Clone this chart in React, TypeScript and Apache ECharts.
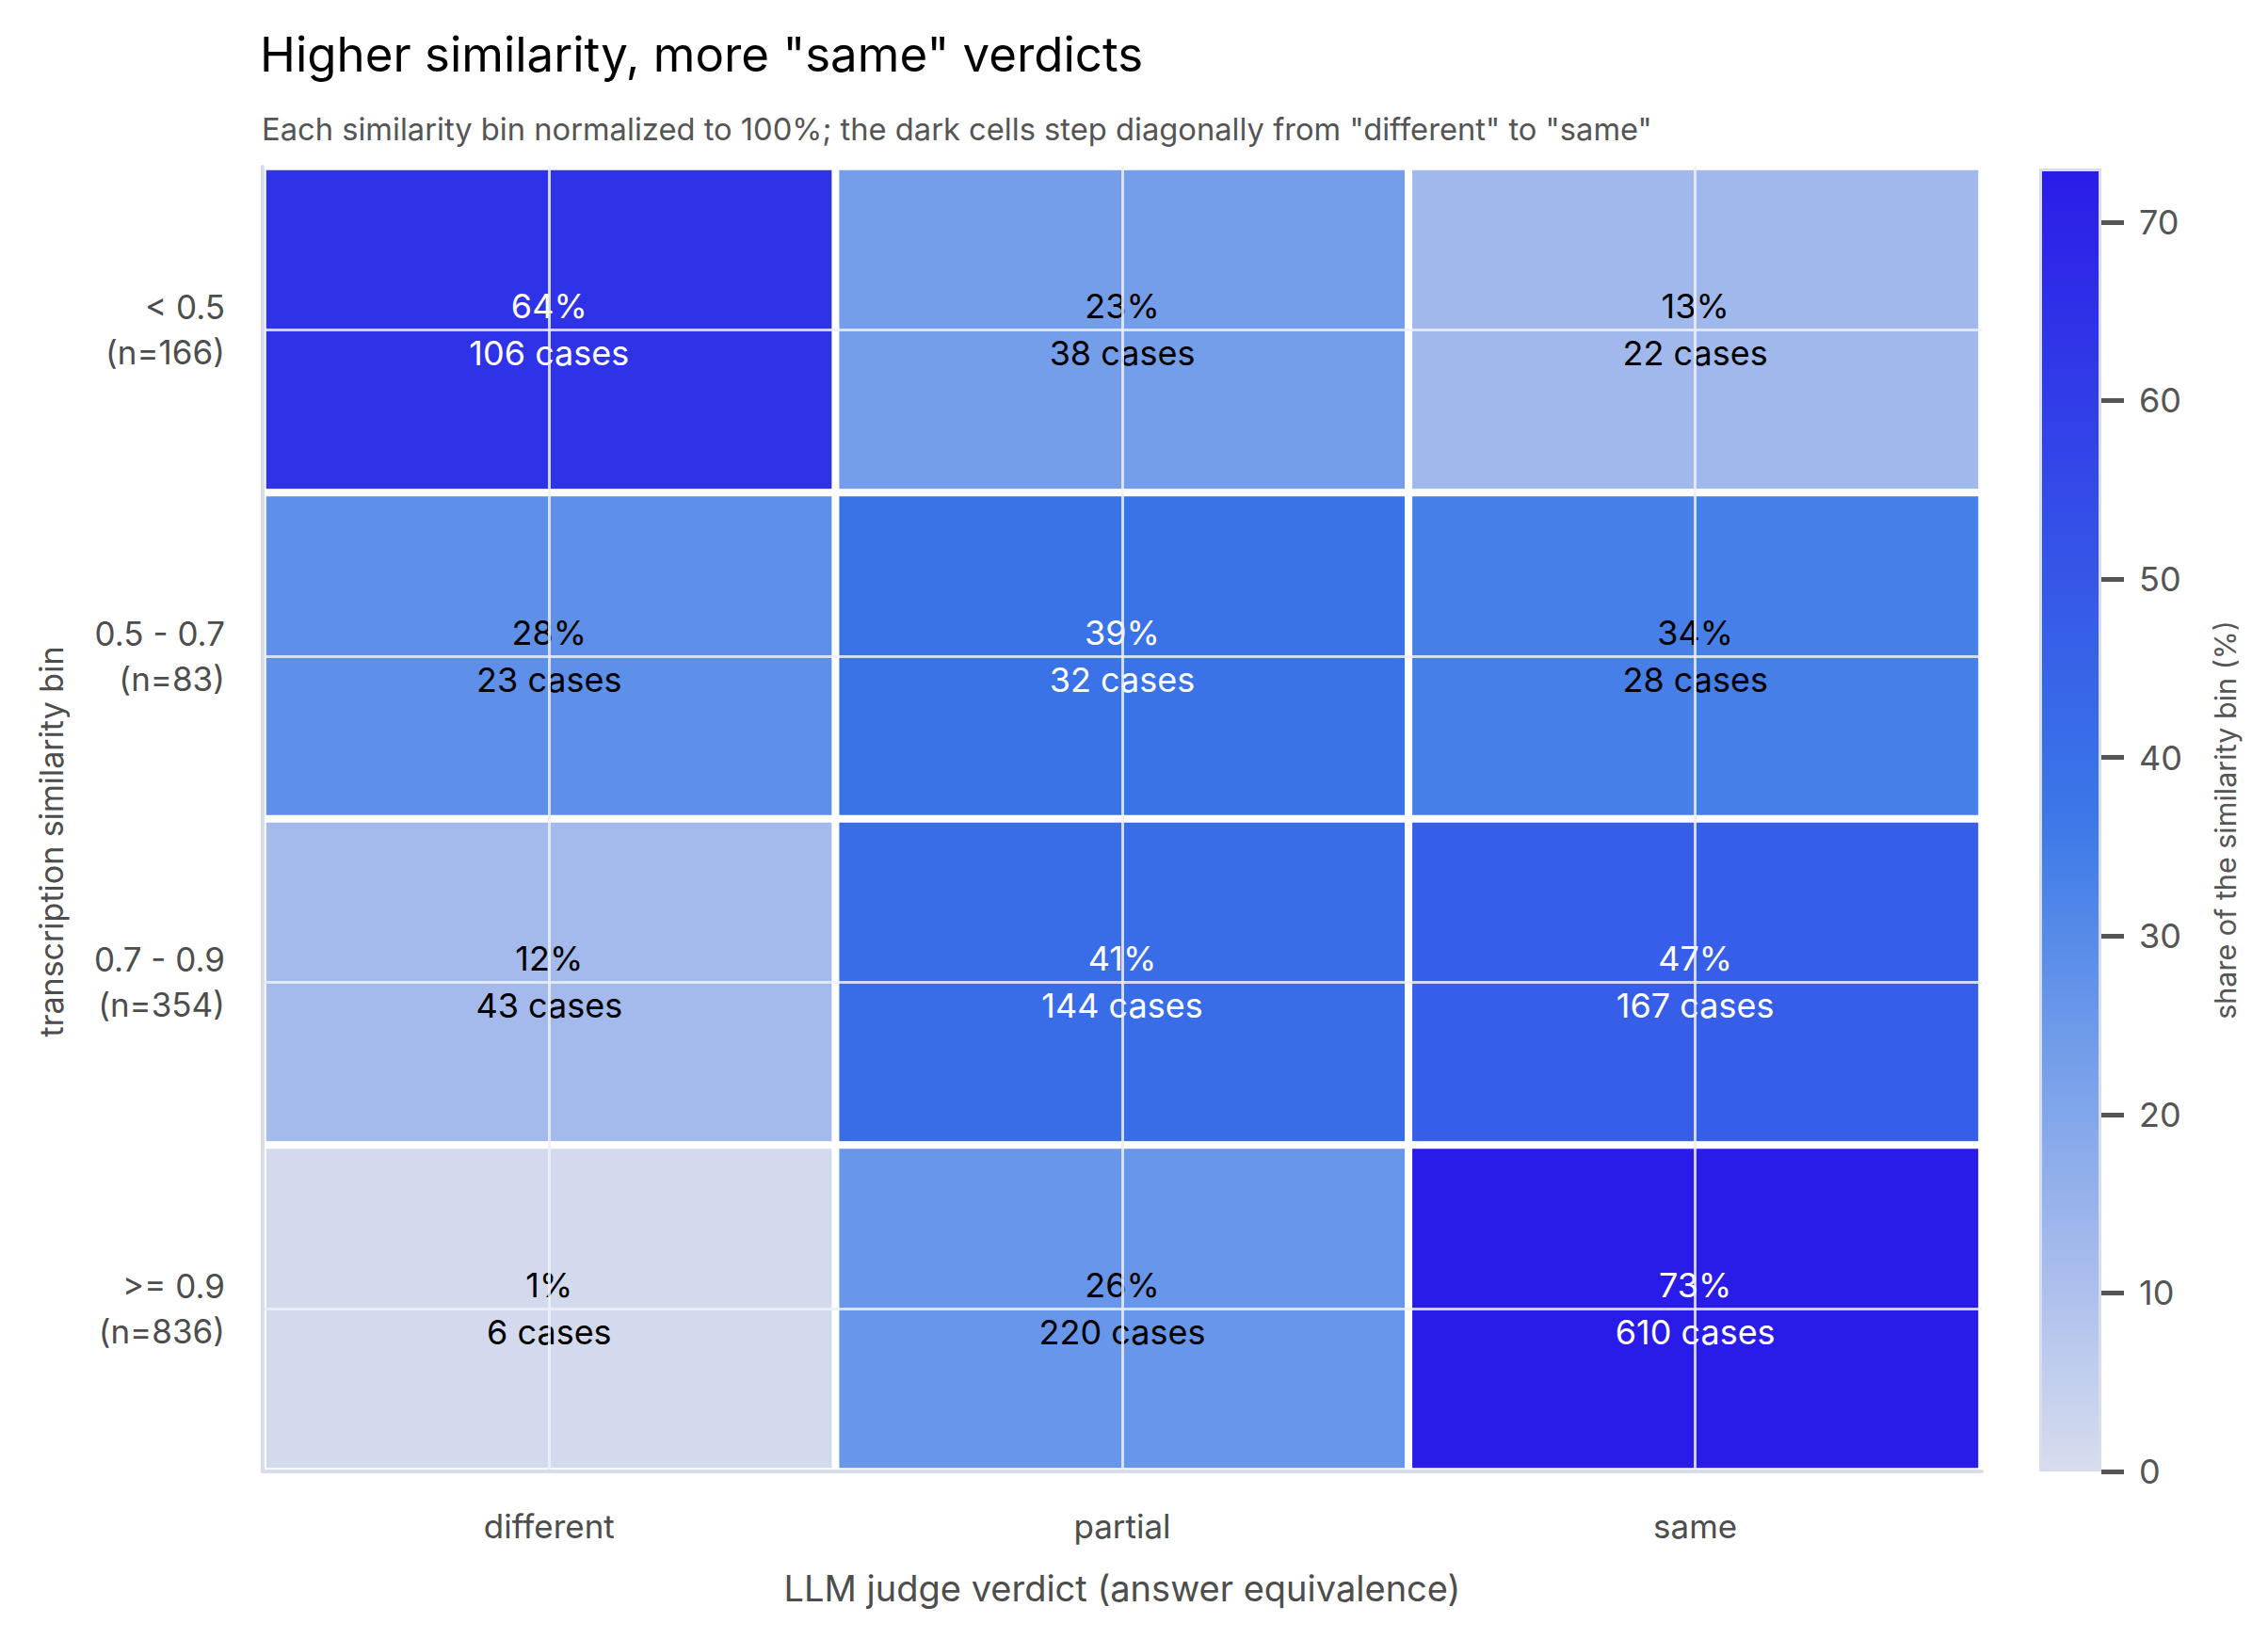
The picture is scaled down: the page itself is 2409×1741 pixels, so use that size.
import React, { useEffect, useRef } from "react";
import * as echarts from "echarts";

const verdicts = ["different", "partial", "same"];
const bins = ["< 0.5", "0.5 - 0.7", "0.7 - 0.9", ">= 0.9"];
const binN = [166, 83, 354, 836];
const caseCounts = [
  [106, 38, 22],
  [23, 32, 28],
  [43, 144, 167],
  [6, 220, 610],
];
const sharePct = [
  [64, 23, 13],
  [28, 39, 34],
  [12, 41, 47],
  [1, 26, 73],
];
const colorbarTicks = [0, 10, 20, 30, 40, 50, 60, 70];
const scaleMax = 73;
const palette = ["#d8ddee", "#a4baec", "#6f9bea", "#3b78e8", "#365ae8", "#313be8", "#2a1ce8"];

const FONT = "Inter, 'Noto Sans', sans-serif";

export default function App() {
  const ref = useRef<HTMLDivElement>(null);
  useEffect(() => {
    if (!ref.current) return;
    const chart = echarts.init(ref.current, undefined, { renderer: "svg" });
    const data: any[] = [];
    bins.forEach((b, yi) => {
      verdicts.forEach((v, xi) => {
        const p = sharePct[yi][xi];
        data.push({
          value: [xi, yi, p],
          cases: caseCounts[yi][xi],
          label: { color: p > 36 ? "#ffffff" : "#000000" },
        });
      });
    });
    const stops = palette.map((c, i) => ({ offset: i / (palette.length - 1), color: c }));
    const option: any = {
      animation: false,
      backgroundColor: "#ffffff",
      textStyle: { fontFamily: FONT },
      title: [
        {
          text: 'Higher similarity, more "same" verdicts',
          left: 271,
          top: 27,
          textStyle: { fontFamily: FONT, fontSize: 51, fontWeight: "normal", color: "#000000" },
        },
        {
          text: 'Each similarity bin normalized to 100%; the dark cells step diagonally from "different" to "same"',
          left: 273,
          top: 115,
          textStyle: { fontFamily: FONT, fontSize: 32.7, fontWeight: "normal", color: "#555555" },
        },
      ],
      graphic: [
        {
          type: "text",
          x: 54,
          y: 894,
          rotation: Math.PI / 2,
          style: {
            text: "transcription similarity bin",
            fontSize: 34,
            fontFamily: FONT,
            fill: "#4d4d4d",
            align: "center",
            verticalAlign: "middle",
          },
        },
      ],
      grid: [
        { left: 279, top: 177, width: 1826, height: 1386 },
        { left: 2166, top: 179, width: 66, height: 1384 },
      ],
      xAxis: [
        {
          type: "category",
          data: verdicts,
          gridIndex: 0,
          z: 5,
          axisLine: { show: true, lineStyle: { color: "#d8ddee", width: 4 } },
          axisTick: { show: false },
          splitLine: { show: false },
          axisLabel: { fontSize: 35, color: "#4d4d4d", margin: 40, fontFamily: FONT },
          name: "LLM judge verdict (answer equivalence)",
          nameLocation: "middle",
          nameGap: 105,
          nameTextStyle: { fontSize: 38, color: "#4d4d4d", fontFamily: FONT },
        },
        {
          type: "category",
          data: ["bar"],
          gridIndex: 1,
          show: false,
        },
      ],
      yAxis: [
        {
          type: "category",
          data: bins,
          inverse: true,
          gridIndex: 0,
          z: 5,
          axisLine: { show: true, lineStyle: { color: "#d8ddee", width: 4 } },
          axisTick: { show: false },
          splitLine: { show: false },
          axisLabel: {
            fontSize: 35,
            lineHeight: 48,
            color: "#4d4d4d",
            margin: 40,
            align: "right",
            fontFamily: FONT,
            formatter: (val: string, idx: number) => `${val}\n(n=${binN[idx]})`,
          },
        },
        {
          type: "value",
          gridIndex: 1,
          position: "right",
          min: 0,
          max: scaleMax,
          interval: 10,
          axisLine: { show: false },
          axisTick: {
            show: true,
            length: 24,
            customValues: colorbarTicks,
            lineStyle: { color: "#555555", width: 5 },
          },
          splitLine: { show: false },
          axisLabel: {
            fontSize: 36,
            color: "#555555",
            margin: 40,
            fontFamily: FONT,
            customValues: colorbarTicks,
          },
          name: "share of the similarity bin (%)",
          nameLocation: "middle",
          nameGap: 116,
          nameRotate: 90,
          nameTextStyle: { fontSize: 30.5, color: "#555555", fontFamily: FONT },
        },
      ],
      visualMap: {
        show: false,
        type: "continuous",
        min: 0,
        max: scaleMax,
        dimension: 2,
        seriesIndex: 0,
        inRange: { color: palette },
      },
      series: [
        {
          type: "heatmap",
          xAxisIndex: 0,
          yAxisIndex: 0,
          data,
          itemStyle: { borderColor: "#ffffff", borderWidth: 8 },
          emphasis: { disabled: true },
          label: {
            show: true,
            fontSize: 36,
            lineHeight: 50,
            fontFamily: FONT,
            formatter: (p: any) => `${p.data.value[2]}%\n${p.data.cases} cases`,
          },
          markLine: {
            silent: true,
            symbol: ["none", "none"],
            label: { show: false },
            lineStyle: { color: "rgba(236,239,250,0.85)", width: 3, type: "solid" },
            emphasis: { disabled: true },
            data: [
              ...verdicts.map((v) => ({ xAxis: v })),
              ...bins.map((b) => ({ yAxis: b })),
            ],
          },
        },
        {
          type: "bar",
          xAxisIndex: 1,
          yAxisIndex: 1,
          data: [scaleMax],
          barWidth: "100%",
          silent: true,
          itemStyle: {
            color: new echarts.graphic.LinearGradient(0, 1, 0, 0, stops),
            borderColor: "#d8ddee",
            borderWidth: 3,
          },
        },
      ],
    };
    chart.setOption(option);
    return () => chart.dispose();
  }, []);
  return (
    <div
      ref={ref}
      style={{ position: "fixed", left: 0, top: 0, width: 2409, height: 1741, background: "#fff" }}
    />
  );
}
